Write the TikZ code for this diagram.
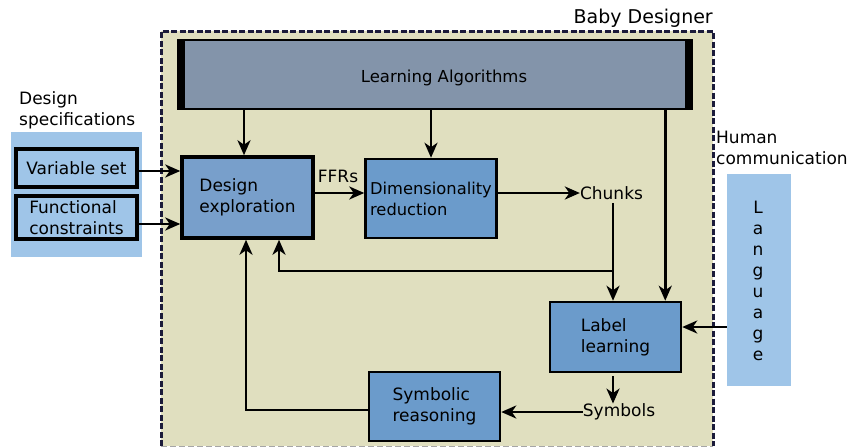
\documentclass[tikz,border=0pt]{standalone}
\usepackage{fontspec}
\setmainfont{DejaVu Sans}
\usetikzlibrary{arrows.meta,calc}
\definecolor{panel}{HTML}{E0DFBF}
\definecolor{frame}{HTML}{1B1B3A}
\definecolor{slate}{HTML}{8394AA}
\definecolor{deblue}{HTML}{789FCB}
\definecolor{midblue}{HTML}{6B9BCB}
\definecolor{skyblue}{HTML}{9FC5E8}
\begin{document}
\begin{tikzpicture}[x=1pt,y=-1pt,
  txt/.style={font=\fontsize{17}{21}\selectfont, inner sep=0pt, align=left},
  box/.style={txt, draw=black, line width=2.5pt, fill=midblue, minimum width=131pt},
  inbox/.style={txt, draw=black, line width=3.5pt, fill=skyblue, minimum width=121pt},
  arr/.style={line width=2.6pt, -{Stealth[length=15pt,width=13pt,inset=4.5pt]}}]
\useasboundingbox (0,0) rectangle (849,447);

% Baby Designer panel
\fill[panel] (161,31) rectangle (713,446);
\draw[frame, line width=3pt, dash pattern=on 6pt off 2.5pt] (161,446) -- (161,31) -- (713,31) -- (713,446);
\draw[gray!70, line width=1pt, dash pattern=on 6pt off 3pt] (161,446) -- (713,446);
\node[txt, font=\fontsize{19}{23}\selectfont, anchor=east] (bd) at (713,18) {Baby Designer};

% Learning algorithms bar
\node[draw=black, line width=2.5pt, fill=slate, minimum width=514pt, minimum height=69pt, inner sep=0pt] (la) at (435,74.5) {};
\fill[black] (la.north west) rectangle ([xshift=8pt]la.south west);
\fill[black] ([xshift=-8pt]la.north east) rectangle (la.south east);
\node[txt, font=\fontsize{16.5}{20}\selectfont] (latxt) at (444,78) {Learning Algorithms};

% Design specifications
\fill[skyblue] (11,132) rectangle (142,257);
\node[txt, anchor=west] (dslabel) at (19,110.5) {Design\\specifications};
\node[inbox, minimum height=38pt] (vs) at (76.5,168) {Variable set};
\node[inbox, minimum height=43pt] (fc) at (76.5,217.5) {Functional\\constraints};

% Human communication
\node[fill=skyblue, minimum width=64pt, minimum height=212pt, inner sep=0pt] (lang) at (759,280) {};
\node[txt, align=center] (langtxt) at (758,280.5) {L\\a\\n\\g\\u\\a\\g\\e};
\node[txt, anchor=west] (hclabel) at (716,147.5) {Human\\communication};

% Processing blocks
\node[box, line width=3.5pt, fill=deblue, minimum height=81pt] (de) at (247.5,197.5) {Design\\exploration};
\node[box, minimum height=79pt, font=\fontsize{16.3}{21}\selectfont] (dr) at (431,198.5) {Dimensionality\\reduction};
\node[box, minimum height=70pt] (ll) at (615.5,337) {Label\\learning};
\node[box, minimum height=69pt] (sr) at (434.5,406.5) {Symbolic\\reasoning};

% Plain labels
\node[txt] (ffrs) at (338,176) {FFRs};
\node[txt] (chunks) at (611.5,193) {Chunks};
\node[txt] (symbols) at (619,412) {Symbols};

% Connectors
\coordinate (llin) at ([xshift=-17pt]ll.north east);
\coordinate (llside) at ([yshift=10pt]ll.east);
\coordinate (split) at (613,271);
\draw[arr] ([xshift=-3.5pt]de.north |- la.south) -- ([xshift=-3.5pt]de.north);
\draw[arr] (dr.north |- la.south) -- (dr.north);
\draw[arr] (la.south -| llin) -- (llin);
\draw[arr] ([yshift=-3pt]vs.east) -- ([yshift=-3pt]vs.east -| de.west);
\draw[arr] ([yshift=-6.5pt]fc.east) -- ([yshift=-6.5pt]fc.east -| de.west);
\draw[arr] ([yshift=4.5pt]de.east) -- ([yshift=4.5pt]de.east -| dr.west);
\draw[arr] ([yshift=5.5pt]dr.east) -- (chunks.west);
\draw[arr] ([yshift=-3pt]split |- chunks.south) -- (split |- ll.north);
\draw[arr] (split) -| ([xshift=31.5pt]de.south);
\draw[arr] (lang.west |- llside) -- (llside);
\draw[arr] ([yshift=-3pt]split |- ll.south) -- (split |- symbols.north);
\draw[arr] (symbols.west) -- (sr.east |- symbols.west);
\draw[arr] ([yshift=-3.5pt]sr.west) -| ([xshift=-1.5pt]de.south);
\end{tikzpicture}
\end{document}
